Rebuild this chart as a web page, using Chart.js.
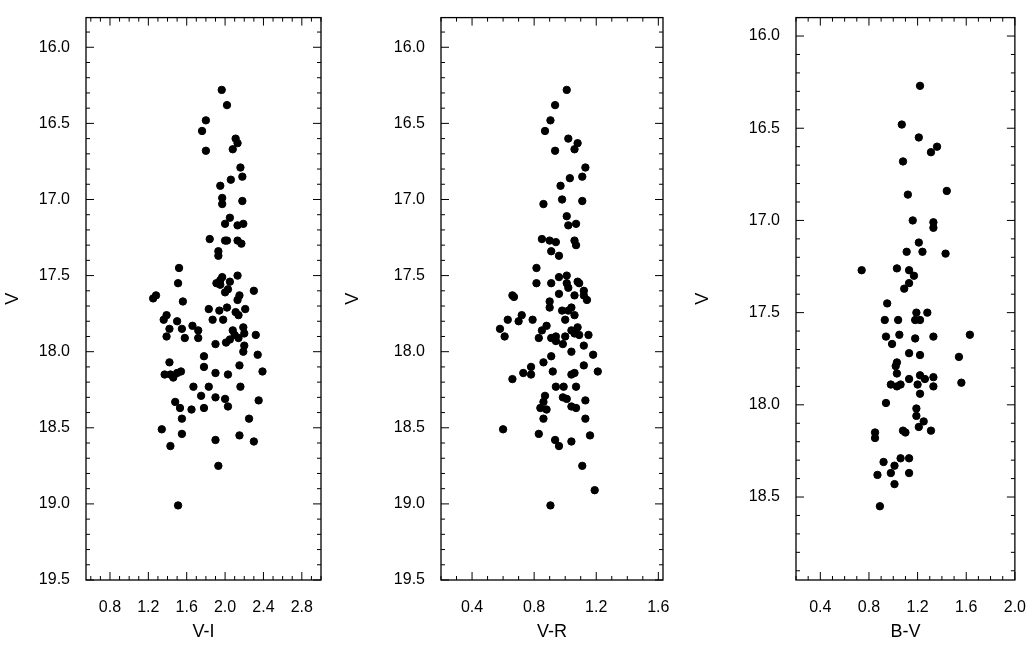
<!DOCTYPE html>
<html><head><meta charset="utf-8">
<script src="https://cdn.jsdelivr.net/npm/chart.js@4"></script>
<style>
body{margin:0;background:#fff;width:1036px;height:647px;overflow:hidden;position:relative}
.p{position:absolute;top:0;height:647px}
</style></head><body>
<div class="p" style="left:0;width:330px"><canvas id="c1"></canvas></div>
<div class="p" style="left:340px;width:340px"><canvas id="c2"></canvas></div>
<div class="p" style="left:690px;width:346px"><canvas id="c3"></canvas></div>
<script>
// Panel 1: V-I vs V
const viX=[1.965,2.02,1.80,1.76,1.80,2.11,2.13,2.08,2.16,2.06,2.18,1.95,1.97,1.97,2.18,2.05,2.0,2.13,2.19,1.84,2.0,2.02,2.13,2.17,1.93,1.93,1.52,1.51,1.95,1.97,2.13,1.91,2.05,1.95,2.03,2.0,2.15,2.30,2.13,1.56,1.25,1.28,1.83,1.94,2.02,2.21,2.11,2.14,1.98,1.87,1.39,1.36,1.50,1.66,1.72,1.42,1.55,2.08,2.19,2.20,2.32,1.39,1.58,1.72,2.10,2.05,2.14,2.01,1.90,2.20,2.19,2.34,1.78,1.42,1.78,2.15,2.39,1.37,1.43,1.46,1.54,1.50,1.90,2.03,1.67,1.83,2.16,1.75,1.90,2.0,1.48,1.53,1.65,1.78,2.03,2.35,1.55,2.25,1.34,1.55,2.15,1.43,1.90,2.30,1.93,1.51];
const viV=[16.28,16.38,16.48,16.55,16.68,16.60,16.63,16.67,16.79,16.87,16.85,16.91,16.99,17.03,17.01,17.12,17.16,17.17,17.16,17.26,17.27,17.27,17.27,17.29,17.34,17.37,17.45,17.55,17.53,17.51,17.50,17.55,17.54,17.56,17.59,17.61,17.63,17.60,17.66,17.67,17.65,17.63,17.72,17.73,17.71,17.72,17.74,17.76,17.79,17.79,17.76,17.79,17.80,17.83,17.86,17.85,17.85,17.86,17.84,17.88,17.89,17.90,17.91,17.91,17.89,17.92,17.91,17.94,17.95,17.96,18.0,18.02,18.03,18.07,18.10,18.09,18.13,18.15,18.15,18.17,18.13,18.14,18.14,18.15,18.23,18.23,18.23,18.29,18.30,18.31,18.33,18.37,18.38,18.37,18.36,18.32,18.44,18.44,18.51,18.54,18.55,18.62,18.58,18.59,18.75,19.01];
// Panel 2: V-R vs V
const vrX=[1.01,0.935,0.905,0.87,1.02,1.08,1.06,0.935,1.13,1.03,1.11,0.97,0.98,0.86,1.11,1.01,1.02,1.07,0.85,0.90,0.94,1.06,1.07,0.91,0.96,0.815,0.815,0.96,1.01,0.91,1.01,1.08,1.09,1.02,1.12,0.96,1.12,1.06,1.14,0.66,0.67,0.90,0.90,0.98,1.04,1.06,1.00,1.02,0.72,0.63,0.70,0.79,0.88,0.85,0.58,0.61,0.83,0.91,0.94,1.00,0.94,1.04,1.06,1.08,1.09,1.15,0.985,1.12,1.04,1.18,0.91,0.86,1.12,1.21,0.78,0.73,0.78,0.92,1.04,1.06,0.66,0.94,0.99,1.07,0.87,0.985,1.01,1.13,0.86,0.84,0.88,1.04,1.07,0.86,1.13,0.60,0.83,1.16,0.935,0.96,1.04,1.11,1.19,0.905];
const vrV=[16.28,16.38,16.48,16.55,16.60,16.63,16.67,16.68,16.79,16.86,16.85,16.91,17.0,17.03,17.01,17.11,17.17,17.16,17.26,17.27,17.28,17.27,17.30,17.34,17.37,17.45,17.55,17.51,17.50,17.55,17.55,17.54,17.55,17.58,17.60,17.62,17.63,17.63,17.66,17.63,17.64,17.67,17.71,17.73,17.71,17.76,17.79,17.73,17.76,17.79,17.80,17.79,17.83,17.86,17.85,17.90,17.91,17.91,17.90,17.90,17.93,17.86,17.88,17.84,17.89,17.89,17.95,17.96,18.0,18.02,18.03,18.07,18.09,18.13,18.10,18.14,18.15,18.13,18.15,18.14,18.18,18.23,18.23,18.23,18.29,18.30,18.31,18.32,18.33,18.37,18.38,18.36,18.37,18.44,18.44,18.51,18.54,18.55,18.58,18.62,18.59,18.75,18.91,19.01];
// Panel 3: B-V vs V
const bvX=[1.22,1.07,1.21,1.36,1.31,1.08,1.44,1.12,1.16,1.33,1.33,1.21,1.11,1.24,1.43,0.74,1.03,1.13,1.17,1.13,1.09,0.95,1.19,1.28,0.93,1.04,1.18,1.22,0.94,1.05,1.18,1.33,1.63,0.99,1.13,1.22,1.54,1.03,1.02,1.03,1.22,1.33,1.26,1.13,1.56,0.98,1.06,1.03,1.20,1.33,1.22,0.94,1.19,1.19,1.25,1.21,1.08,1.10,1.31,0.85,0.85,1.06,1.13,0.92,1.01,0.98,1.13,0.87,1.01,0.89];
const bvV=[16.27,16.48,16.55,16.60,16.63,16.68,16.84,16.86,17.0,17.01,17.04,17.12,17.17,17.17,17.18,17.27,17.26,17.27,17.30,17.34,17.37,17.45,17.50,17.50,17.54,17.54,17.54,17.54,17.63,17.62,17.64,17.63,17.62,17.67,17.72,17.73,17.74,17.77,17.79,17.83,17.84,17.85,17.86,17.86,17.88,17.89,17.89,17.90,17.89,17.90,17.94,17.99,18.02,18.06,18.09,18.12,18.14,18.15,18.14,18.15,18.18,18.29,18.29,18.31,18.33,18.37,18.37,18.38,18.43,18.55];

const viTicks=[0.8,1.2,1.6,2.0,2.4,2.8];
const vrTicks=[0.4,0.8,1.2,1.6];
const bvTicks=[0.4,0.8,1.2,1.6,2.0];
const vTicks12=[16.0,16.5,17.0,17.5,18.0,18.5,19.0,19.5];
const vTicks3=[16.0,16.5,17.0,17.5,18.0,18.5];

const frame={id:'frame',afterDraw(ch){
  const c=ch.ctx,a=ch.chartArea,xs=ch.scales.x,ys=ch.scales.y;
  c.save();c.strokeStyle='#000';c.lineWidth=1.3;
  c.strokeRect(a.left,a.top,a.right-a.left,a.bottom-a.top);
  c.lineWidth=1;c.beginPath();
  const mk=(v,maj)=>Math.abs(v/maj-Math.round(v/maj))<1e-6;
  for(let i=Math.ceil(xs.min*10);i<=Math.floor(xs.max*10);i++){
    const v=i/10,p=xs.getPixelForValue(v),L=mk(v,0.4)?8:4;
    c.moveTo(p,a.bottom);c.lineTo(p,a.bottom-L);c.moveTo(p,a.top);c.lineTo(p,a.top+L);}
  for(let i=Math.ceil(ys.min*10);i<=Math.floor(ys.max*10);i++){
    const v=i/10,p=ys.getPixelForValue(v),L=mk(v,0.5)?8:4;
    c.moveTo(a.left,p);c.lineTo(a.left+L,p);c.moveTo(a.right,p);c.lineTo(a.right-L,p);}
  c.stroke();c.restore();}};

function make(id,xs,ys,xt,yt,xmin,xmax,ymin,ymax,xlab,yw,rp,tp){
  new Chart(document.getElementById(id),{type:'scatter',
    data:{datasets:[{data:xs.map((x,i)=>({x,y:ys[i]})),backgroundColor:'#000',borderColor:'#000',pointRadius:3.7,pointHoverRadius:3.7}]},
    options:{responsive:true,maintainAspectRatio:false,animation:false,
      layout:{padding:{top:tp,right:rp,bottom:0,left:0}},
      plugins:{legend:{display:false},tooltip:{enabled:false}},
      scales:{
        x:{type:'linear',min:xmin,max:xmax,grid:{display:false},border:{display:false},
          afterBuildTicks:s=>{s.ticks=xt.map(v=>({value:v}));},
          afterFit:s=>{s.height=67;},
          ticks:{color:'#000',font:{family:'Liberation Sans',size:16},padding:10,maxRotation:0,callback:v=>v.toFixed(1)},
          title:{display:true,text:xlab,color:'#000',font:{family:'Liberation Sans',size:18},padding:{top:10}}},
        y:{type:'linear',reverse:true,min:ymin,max:ymax,grid:{display:false},border:{display:false},
          afterBuildTicks:s=>{s.ticks=yt.map(v=>({value:v}));},
          afterFit:s=>{s.width=yw;},
          ticks:{color:'#000',font:{family:'Liberation Sans',size:16},padding:8,callback:v=>v.toFixed(1)},
          title:{display:true,text:'V',color:'#000',font:{family:'Liberation Sans',size:18},padding:{top:2,bottom:0}}}}},
    plugins:[frame]});
}
make('c1',viX,viV,viTicks,vTicks12,0.55,3.0,15.805,19.5,'V-I',86,9,5);
make('c2',vrX,vrV,vrTicks,vTicks12,0.2,1.63,15.805,19.5,'V-R',101,17,5);
make('c3',bvX,bvV,bvTicks,vTicks3,0.2,2.0,15.9,18.95,'B-V',106,18,4);
</script></body></html>
